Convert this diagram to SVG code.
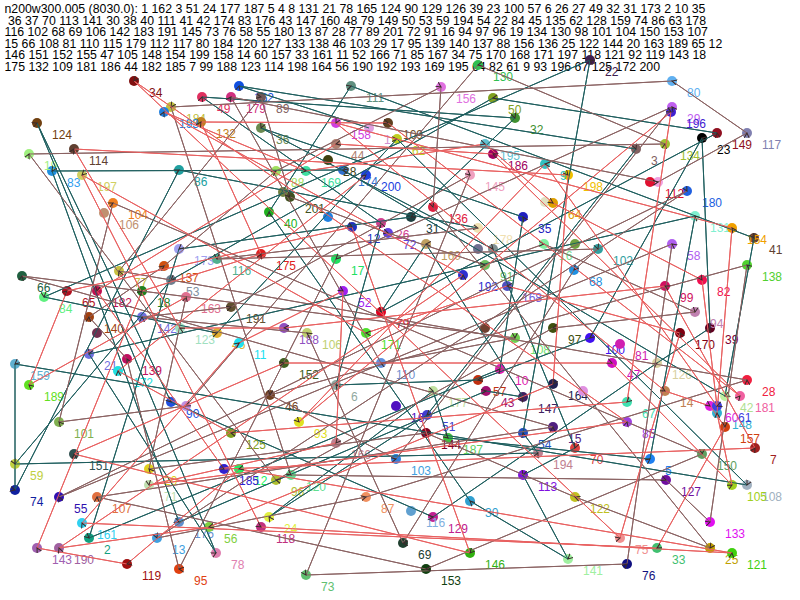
<svg xmlns="http://www.w3.org/2000/svg" width="800" height="600" viewBox="0 0 800 600">
<style>
text{font-family:"Liberation Sans",Arial,sans-serif;font-size:12px}
.hd text{font-size:12.3px;fill:#000}
.e{fill:none;stroke-width:1}
.t{stroke:#1e5e5e}.b{stroke:#8a6262}.r{stroke:#e86060}
.m{fill:none;stroke:none;marker-mid:url(#ah);marker-end:url(#ah)}
</style>
<defs>
<marker id="ah" viewBox="0 0 6 6" refX="5" refY="3" markerWidth="6" markerHeight="6" markerUnits="userSpaceOnUse" orient="auto"><path d="M0,0.5 L5,3 L0,5.5" fill="none" stroke="#3a2a2a" stroke-width="1"/></marker>
</defs>
<rect width="800" height="600" fill="#fff"/>
<g class="hd">
<text x="4.5" y="13">n200w300.005 (8030.0): 1 162 3 51 24 177 187 5 4 8 131 21 78 165 124 90 129 126 39 23 100 57 6 26 27 49 32 31 173 2 10 35</text>
<text x="7.9" y="24.6">36 37 70 113 141 30 38 40 111 41 42 174 83 176 43 147 160 48 79 149 50 53 59 194 54 22 84 45 135 62 128 159 74 86 63 178</text>
<text x="4.5" y="36.2">116 102 68 69 106 142 183 191 145 73 76 58 55 180 13 87 28 77 89 201 72 91 16 94 97 96 19 134 130 98 101 104 150 153 107</text>
<text x="4.5" y="47.8">15 66 108 81 110 115 179 112 117 80 184 120 127 133 138 46 103 29 17 95 139 140 137 88 156 136 25 122 144 20 163 189 65 12</text>
<text x="4.5" y="59.4">146 151 152 155 47 105 148 154 199 158 14 60 157 33 161 11 52 166 71 85 167 34 75 170 168 171 197 118 121 92 119 143 18</text>
<text x="4.5" y="71">175 132 109 181 186 44 182 185 7 99 188 123 114 198 164 56 190 192 193 169 195 64 82 61 9 93 196 67 125 172 200</text>
</g>
<g id="edges">
<polyline id="tourA" class="e t" points="369,128 239,86 636,149 427,415 269,517 433,391 448,438 650,459 695,216 89,354 216,553 37,123 171,402 433,517 657,363 710,328 702,138 590,338 478,380 336,385 381,223 202,97 515,118 411,217 179,249 89,538 500,369 523,217 261,128 493,249 575,448 523,475 568,559 470,501 269,212 351,86 754,238 725,396 343,170 52,171 179,522 486,391 523,397 426,244 381,312 717,133 493,98 171,280 15,464 538,453 523,433 590,60 44,297 217,333 397,139 747,485 15,364 15,490 179,170 478,228"/>
<polyline id="tourB" class="e b" points="478,228 217,259 598,249 574,270 403,543 307,333 142,317 231,307 470,175 306,575 627,564 672,244 59,497 687,191 157,538 366,497 747,380 119,271 261,97 290,197 388,233 485,265 544,244 695,312 553,328 276,480 29,154 665,144 478,65 186,406 59,422 113,203 702,454 426,569 97,497 553,427 22,276 515,338 381,363 231,97 658,182 747,133 672,81 171,107 291,475 666,480 710,522 747,265 270,395 396,459 672,107 336,259 179,569 127,359 89,317 164,266 276,171 441,87 433,207 710,548 575,497 426,433 149,469 186,297"/>
<polyline id="tourC" class="e r" points="186,297 29,385 67,291 352,227 470,553 74,454 284,363 612,363 732,485 717,413 732,228 336,123 665,391 710,406 725,427 657,548 82,523 239,343 343,291 336,443 149,485 627,422 134,81 620,538 680,333 507,286 366,333 82,175 261,527 732,553 239,469 127,564 37,548 142,291 261,254 201,122 388,123 740,396 493,154 336,144 97,291 224,469 755,448 665,286 284,328 180,328 74,149 568,175 553,384 209,527 59,548 463,275 164,112 306,171 485,144 553,203 702,280 717,406 545,164 299,422 671,112 627,402 231,433 118,371 366,175"/>
</g>
<g id="nodes">
<g id="n1"><circle cx="369" cy="128" r="5" fill="#e0a0e0"/><text x="384" y="144" fill="#d090d0">1</text></g>
<g id="n162"><circle cx="239" cy="86" r="5" fill="#1050e0"/><text x="254" y="102" fill="#1050e0">162</text></g>
<g id="n3"><circle cx="636" cy="149" r="5" fill="#806060"/><text x="651" y="165" fill="#806060">3</text></g>
<g id="n51"><circle cx="427" cy="415" r="5" fill="#4040d0"/><text x="442" y="431" fill="#4040d0">51</text></g>
<g id="n24"><circle cx="269" cy="517" r="5" fill="#e0f040"/><text x="284" y="533" fill="#e0f040">24</text></g>
<g id="n177"><circle cx="433" cy="391" r="5" fill="#c0e0a0"/><text x="448" y="407" fill="#c0e0a0">177</text></g>
<g id="n187"><circle cx="448" cy="438" r="5" fill="#40c040"/><text x="463" y="454" fill="#60d060">187</text></g>
<g id="n5"><circle cx="650" cy="459" r="5" fill="#2080f0"/><text x="665" y="475" fill="#2080f0">5</text></g>
<g id="n131"><circle cx="695" cy="216" r="5" fill="#80f0d0"/><text x="710" y="232" fill="#80f0d0">131</text></g>
<g id="n21"><circle cx="89" cy="354" r="5" fill="#7070e0"/><text x="104" y="370" fill="#7070e0">21</text></g>
<g id="n78"><circle cx="216" cy="553" r="5" fill="#e080b0"/><text x="231" y="569" fill="#e080b0">78</text></g>
<g id="n124"><circle cx="37" cy="123" r="5" fill="#704010"/><text x="52" y="139" fill="#704010">124</text></g>
<g id="n90"><circle cx="171" cy="402" r="5" fill="#2050e0"/><text x="186" y="418" fill="#2050e0">90</text></g>
<g id="n129"><circle cx="433" cy="517" r="5" fill="#c02090"/><text x="448" y="533" fill="#c02090">129</text></g>
<g id="n126"><circle cx="657" cy="363" r="5" fill="#d8d0a0"/><text x="672" y="379" fill="#d8d0a0">126</text></g>
<g id="n39"><circle cx="710" cy="328" r="5" fill="#600020"/><text x="725" y="344" fill="#800030">39</text></g>
<g id="n23"><circle cx="702" cy="138" r="5" fill="#000"/><text x="717" y="154" fill="#000">23</text></g>
<g id="n100"><circle cx="590" cy="338" r="5" fill="#4010f0"/><text x="605" y="354" fill="#4010f0">100</text></g>
<g id="n57"><circle cx="478" cy="380" r="5" fill="#c03010"/><text x="493" y="396" fill="#c03010">57</text></g>
<g id="n6"><circle cx="336" cy="385" r="5" fill="#90a8a0"/><text x="351" y="401" fill="#90a8a0">6</text></g>
<g id="n26"><circle cx="381" cy="223" r="5" fill="#d04090"/><text x="396" y="239" fill="#d04090">26</text></g>
<g id="n49"><circle cx="202" cy="97" r="5" fill="#e03060"/><text x="217" y="113" fill="#e03060">49</text></g>
<g id="n32"><circle cx="515" cy="118" r="5" fill="#409030"/><text x="530" y="134" fill="#409030">32</text></g>
<g id="n31"><circle cx="411" cy="217" r="5" fill="#204040"/><text x="426" y="233" fill="#204040">31</text></g>
<g id="n173"><circle cx="179" cy="249" r="5" fill="#a0a0f0"/><text x="194" y="265" fill="#a0a0f0">173</text></g>
<g id="n2"><circle cx="89" cy="538" r="5" fill="#10a080"/><text x="104" y="554" fill="#10a080">2</text></g>
<g id="n10"><circle cx="500" cy="369" r="5" fill="#e020b0"/><text x="515" y="385" fill="#e020b0">10</text></g>
<g id="n35"><circle cx="523" cy="217" r="5" fill="#2020c0"/><text x="538" y="233" fill="#2020c0">35</text></g>
<g id="n36"><circle cx="261" cy="128" r="5" fill="#6a8a50"/><text x="276" y="144" fill="#6a8a50">36</text></g>
<g id="n37"><circle cx="493" cy="249" r="5" fill="#809090"/></g>
<g id="n_e"><circle cx="478" cy="249" r="5" fill="#707090"/></g>
<g id="n70"><circle cx="575" cy="448" r="5" fill="#e04040"/><text x="590" y="464" fill="#e04040">70</text></g>
<g id="n113"><circle cx="523" cy="475" r="5" fill="#8010e0"/><text x="538" y="491" fill="#8010e0">113</text></g>
<g id="n141"><circle cx="568" cy="559" r="5" fill="#a0f0a0"/><text x="583" y="575" fill="#a0f0a0">141</text></g>
<g id="n30"><circle cx="470" cy="501" r="5" fill="#30a0d0"/><text x="485" y="517" fill="#30a0d0">30</text></g>
<g id="n40"><circle cx="269" cy="212" r="5" fill="#20b020"/><text x="284" y="228" fill="#20b020">40</text></g>
<g id="n111"><circle cx="351" cy="86" r="5" fill="#609080"/><text x="366" y="102" fill="#609080">111</text></g>
<g id="n41"><circle cx="754" cy="238" r="5" fill="#604030"/><text x="769" y="254" fill="#604030">41</text></g>
<g id="n42"><circle cx="725" cy="396" r="5" fill="#c0f0a0"/><text x="740" y="412" fill="#b0e090">42</text></g>
<g id="n174"><circle cx="343" cy="170" r="5" fill="#3070d0"/><text x="358" y="186" fill="#3070d0">174</text></g>
<g id="n83"><circle cx="52" cy="171" r="5" fill="#2090e0"/><text x="67" y="187" fill="#30a0f0">83</text></g>
<g id="n176"><circle cx="179" cy="522" r="5" fill="#6090d0"/><text x="194" y="538" fill="#6090d0">176</text></g>
<g id="n43"><circle cx="486" cy="391" r="5" fill="#a01070"/><text x="501" y="407" fill="#a01070">43</text></g>
<g id="n147"><circle cx="523" cy="397" r="5" fill="#402060"/><text x="538" y="413" fill="#402060">147</text></g>
<g id="n160"><circle cx="426" cy="244" r="5" fill="#c0a060"/><text x="441" y="260" fill="#c0a060">160</text></g>
<g id="n79"><circle cx="381" cy="312" r="5" fill="#e00020"/><text x="396" y="328" fill="#e00020">79</text></g>
<g id="n149"><circle cx="717" cy="133" r="5" fill="#901020"/><text x="732" y="149" fill="#901020">149</text></g>
<g id="n117"><circle cx="747" cy="133" r="5" fill="#8080b0"/><text x="762" y="149" fill="#8080b0">117</text></g>
<g id="n50"><circle cx="493" cy="98" r="5" fill="#80a020"/><text x="508" y="114" fill="#80a020">50</text></g>
<g id="n53"><circle cx="171" cy="280" r="5" fill="#708090"/><text x="186" y="296" fill="#8090a0">53</text></g>
<g id="n59"><circle cx="15" cy="464" r="5" fill="#c0d040"/><text x="30" y="480" fill="#c0d040">59</text></g>
<g id="n194"><circle cx="538" cy="453" r="5" fill="#c08090"/><text x="553" y="469" fill="#c08090">194</text></g>
<g id="n54"><circle cx="523" cy="433" r="5" fill="#2050c0"/><text x="538" y="449" fill="#2050c0">54</text></g>
<g id="n22"><circle cx="590" cy="60" r="5" fill="#402050"/><text x="605" y="76" fill="#402050">22</text></g>
<g id="n84"><circle cx="44" cy="297" r="5" fill="#60f080"/><text x="59" y="313" fill="#60f080">84</text></g>
<g id="n45"><circle cx="217" cy="333" r="5" fill="#e0b030"/><text x="232" y="349" fill="#e0b030">45</text></g>
<g id="n62"><circle cx="397" cy="139" r="5" fill="#c0d020"/><text x="412" y="155" fill="#c0d020">62</text></g>
<g id="n128"><circle cx="747" cy="485" r="5" fill="#a0b0c0"/><text x="762" y="501" fill="#a0b0c0">108</text></g>
<g id="n159"><circle cx="15" cy="364" r="5" fill="#60b0d0"/><text x="30" y="380" fill="#60b0d0">159</text></g>
<g id="n74"><circle cx="15" cy="490" r="5" fill="#1020a0"/><text x="30" y="506" fill="#1020a0">74</text></g>
<g id="n86"><circle cx="179" cy="170" r="5" fill="#20a0a0"/><text x="194" y="186" fill="#20a0a0">86</text></g>
<g id="n178"><circle cx="478" cy="228" r="5" fill="#f0e0b0"/><text x="493" y="244" fill="#f0e0b0">178</text></g>
<g id="n116"><circle cx="217" cy="259" r="5" fill="#50b090"/><text x="232" y="275" fill="#50b090">116</text></g>
<g id="n102"><circle cx="598" cy="249" r="5" fill="#30a0a0"/><text x="613" y="265" fill="#30a0a0">102</text></g>
<g id="n68"><circle cx="574" cy="270" r="5" fill="#2090e0"/><text x="589" y="286" fill="#2090e0">68</text></g>
<g id="n69"><circle cx="403" cy="543" r="5" fill="#204030"/><text x="418" y="559" fill="#204030">69</text></g>
<g id="n106"><circle cx="307" cy="333" r="5" fill="#c0d070"/><text x="322" y="349" fill="#c0d070">106</text></g>
<g id="n142"><circle cx="142" cy="317" r="5" fill="#7070e0"/><text x="157" y="333" fill="#7070e0">142</text></g>
<g id="n191"><circle cx="231" cy="307" r="5" fill="#605030"/><text x="246" y="323" fill="#605030">191</text></g>
<g id="n145"><circle cx="470" cy="175" r="5" fill="#f0a0c0"/><text x="485" y="191" fill="#f0a0c0">145</text></g>
<g id="n73"><circle cx="306" cy="575" r="5" fill="#60c070"/><text x="321" y="591" fill="#60c070">73</text></g>
<g id="n76"><circle cx="627" cy="564" r="5" fill="#101080"/><text x="642" y="580" fill="#101080">76</text></g>
<g id="n58"><circle cx="672" cy="244" r="5" fill="#b060f0"/><text x="687" y="260" fill="#b060f0">58</text></g>
<g id="n55"><circle cx="59" cy="497" r="5" fill="#3010b0"/><text x="74" y="513" fill="#3010b0">55</text></g>
<g id="n180"><circle cx="687" cy="191" r="5" fill="#2060e0"/><text x="702" y="207" fill="#2060e0">180</text></g>
<g id="n13"><circle cx="157" cy="538" r="5" fill="#40a0e0"/><text x="172" y="554" fill="#40a0e0">13</text></g>
<g id="n87"><circle cx="366" cy="497" r="5" fill="#f09060"/><text x="381" y="513" fill="#f09060">87</text></g>
<g id="n28"><circle cx="747" cy="380" r="5" fill="#f02040"/><text x="762" y="396" fill="#f02040">28</text></g>
<g id="n28b"><circle cx="328" cy="160" r="5" fill="#404010"/><text x="343" y="176" fill="#404010">28</text></g>
<g id="n77"><circle cx="119" cy="271" r="5" fill="#c8c040"/><text x="134" y="287" fill="#c8c040">77</text></g>
<g id="n89"><circle cx="261" cy="97" r="5" fill="#705858"/><text x="276" y="113" fill="#806060">89</text></g>
<g id="n201"><circle cx="290" cy="197" r="5" fill="#405020"/><text x="305" y="213" fill="#405020">201</text></g>
<g id="n_o"><circle cx="283" cy="192" r="5" fill="#708040"/></g>
<g id="n72"><circle cx="388" cy="233" r="5" fill="#6040e0"/><text x="403" y="249" fill="#6040e0">72</text></g>
<g id="n91"><circle cx="485" cy="265" r="5" fill="#70c060"/><text x="500" y="281" fill="#70c060">91</text></g>
<g id="n16"><circle cx="544" cy="244" r="5" fill="#80f0a0"/><text x="559" y="260" fill="#70e090">16</text></g>
<g id="n_g"><circle cx="575" cy="244" r="5" fill="#70a040"/></g>
<g id="n94"><circle cx="695" cy="312" r="5" fill="#c080b0"/><text x="710" y="328" fill="#c080b0">94</text></g>
<g id="n97"><circle cx="553" cy="328" r="5" fill="#405010"/><text x="568" y="344" fill="#405010">97</text></g>
<g id="n96"><circle cx="276" cy="480" r="5" fill="#b0c030"/><text x="291" y="496" fill="#b0c030">96</text></g>
<g id="n19"><circle cx="29" cy="154" r="5" fill="#a0f080"/><text x="44" y="170" fill="#a0f080">19</text></g>
<g id="n134"><circle cx="665" cy="144" r="5" fill="#a0c030"/><text x="680" y="160" fill="#a0c030">134</text></g>
<g id="n130"><circle cx="478" cy="65" r="5" fill="#30c050"/><text x="493" y="81" fill="#30c050">130</text></g>
<g id="n98"><circle cx="186" cy="406" r="5" fill="#c090e0"/></g>
<g id="n101"><circle cx="59" cy="422" r="5" fill="#80b050"/><text x="74" y="438" fill="#80b050">101</text></g>
<g id="n104"><circle cx="113" cy="203" r="5" fill="#f08020"/><text x="128" y="219" fill="#f08020">104</text></g>
<g id="n106b"><circle cx="104" cy="213" r="5" fill="#c09070"/><text x="119" y="229" fill="#c09070">106</text></g>
<g id="n150"><circle cx="702" cy="454" r="5" fill="#60a060"/><text x="717" y="470" fill="#60a060">150</text></g>
<g id="n153"><circle cx="426" cy="569" r="5" fill="#104010"/><text x="441" y="585" fill="#104010">153</text></g>
<g id="n107"><circle cx="97" cy="497" r="5" fill="#e07040"/><text x="112" y="513" fill="#e07040">107</text></g>
<g id="n15"><circle cx="553" cy="427" r="5" fill="#502080"/><text x="568" y="443" fill="#502080">15</text></g>
<g id="n66"><circle cx="22" cy="276" r="5" fill="#206040"/><text x="37" y="292" fill="#206040">66</text></g>
<g id="n108"><circle cx="515" cy="338" r="5" fill="#70d050"/><text x="530" y="354" fill="#70e070">108</text></g>
<g id="n110"><circle cx="381" cy="363" r="5" fill="#6090e0"/><text x="396" y="379" fill="#7090d0">110</text></g>
<g id="n179"><circle cx="231" cy="97" r="5" fill="#d03080"/><text x="246" y="113" fill="#d03080">179</text></g>
<g id="n112"><circle cx="658" cy="182" r="5" fill="#f0a0e0"/></g>
<g id="n_n"><circle cx="650" cy="182" r="5" fill="#e01030"/><text x="665" y="198" fill="#e01030">112</text></g>
<g id="n80"><circle cx="672" cy="81" r="5" fill="#60b0f0"/><text x="687" y="97" fill="#60b0f0">80</text></g>
<g id="n184"><circle cx="171" cy="107" r="5" fill="#c0c040"/><text x="186" y="123" fill="#c0c040">184</text></g>
<g id="n120"><circle cx="291" cy="475" r="5" fill="#60e090"/><text x="306" y="491" fill="#60e090">120</text></g>
<g id="n127"><circle cx="666" cy="480" r="5" fill="#7010a0"/><text x="681" y="496" fill="#7010a0">127</text></g>
<g id="n133"><circle cx="710" cy="522" r="5" fill="#e010f0"/><text x="725" y="538" fill="#e010f0">133</text></g>
<g id="n138"><circle cx="747" cy="265" r="5" fill="#50d030"/><text x="762" y="281" fill="#50d030">138</text></g>
<g id="n46"><circle cx="270" cy="395" r="5" fill="#704020"/><text x="285" y="411" fill="#704020">46</text></g>
<g id="n103"><circle cx="396" cy="459" r="5" fill="#3080e0"/><text x="411" y="475" fill="#40a0e0">103</text></g>
<g id="n29"><circle cx="672" cy="107" r="5" fill="#c060f0"/><text x="687" y="123" fill="#c060f0">29</text></g>
<g id="n196"><circle cx="671" cy="112" r="5" fill="#4020d0"/><text x="686" y="128" fill="#4020d0">196</text></g>
<g id="n17"><circle cx="336" cy="259" r="5" fill="#20e060"/><text x="351" y="275" fill="#20e060">17</text></g>
<g id="n95"><circle cx="179" cy="569" r="5" fill="#e04010"/><text x="194" y="585" fill="#e04010">95</text></g>
<g id="n139"><circle cx="127" cy="359" r="5" fill="#c01060"/><text x="142" y="375" fill="#c01060">139</text></g>
<g id="n140"><circle cx="89" cy="317" r="5" fill="#a04010"/><text x="104" y="333" fill="#a04010">140</text></g>
<g id="n137"><circle cx="164" cy="266" r="5" fill="#d05010"/><text x="179" y="282" fill="#d05010">137</text></g>
<g id="n88"><circle cx="276" cy="171" r="5" fill="#a0e060"/><text x="291" y="187" fill="#a0e060">88</text></g>
<g id="n156"><circle cx="441" cy="87" r="5" fill="#e070e0"/><text x="456" y="103" fill="#e070e0">156</text></g>
<g id="n136"><circle cx="433" cy="207" r="5" fill="#e02040"/><text x="448" y="223" fill="#e02040">136</text></g>
<g id="n25"><circle cx="710" cy="548" r="5" fill="#c0a000"/><text x="725" y="564" fill="#c0a000">25</text></g>
<g id="n122"><circle cx="575" cy="497" r="5" fill="#c0c020"/><text x="590" y="513" fill="#c0c020">122</text></g>
<g id="n144"><circle cx="426" cy="433" r="5" fill="#800020"/><text x="441" y="449" fill="#800020">144</text></g>
<g id="n20"><circle cx="149" cy="469" r="5" fill="#e0d020"/><text x="164" y="485" fill="#e0d020">20</text></g>
<g id="n163"><circle cx="186" cy="297" r="5" fill="#e07090"/><text x="201" y="313" fill="#e07090">163</text></g>
<g id="n189"><circle cx="29" cy="385" r="5" fill="#60e020"/><text x="44" y="401" fill="#60e020">189</text></g>
<g id="n65"><circle cx="67" cy="291" r="5" fill="#b01020"/><text x="82" y="307" fill="#b01020">65</text></g>
<g id="n_b"><circle cx="328" cy="217" r="5" fill="#2080e0"/></g>
<g id="n12"><circle cx="352" cy="227" r="5" fill="#2030c0"/><text x="367" y="243" fill="#2030c0">12</text></g>
<g id="n146"><circle cx="470" cy="553" r="5" fill="#30b010"/><text x="485" y="569" fill="#30b010">146</text></g>
<g id="n151"><circle cx="74" cy="454" r="5" fill="#305050"/><text x="89" y="470" fill="#305050">151</text></g>
<g id="n152"><circle cx="284" cy="363" r="5" fill="#406020"/><text x="299" y="379" fill="#406020">152</text></g>
<g id="n47"><circle cx="612" cy="363" r="5" fill="#d010c0"/><text x="627" y="379" fill="#d010c0">47</text></g>
<g id="n81"><circle cx="620" cy="344" r="5" fill="#d020b0"/><text x="635" y="360" fill="#d020b0">81</text></g>
<g id="n105"><circle cx="732" cy="485" r="5" fill="#a0d020"/><text x="747" y="501" fill="#a0d020">105</text></g>
<g id="n148"><circle cx="717" cy="413" r="5" fill="#30b0d0"/><text x="732" y="429" fill="#30b0d0">148</text></g>
<g id="n154"><circle cx="732" cy="228" r="5" fill="#f0a000"/><text x="747" y="244" fill="#f0a000">154</text></g>
<g id="n158"><circle cx="336" cy="123" r="5" fill="#d040e0"/><text x="351" y="139" fill="#d040e0">158</text></g>
<g id="n14"><circle cx="665" cy="391" r="5" fill="#c08050"/><text x="680" y="407" fill="#c08050">14</text></g>
<g id="n60"><circle cx="710" cy="406" r="5" fill="#e020e0"/><text x="725" y="422" fill="#e020e0">60</text></g>
<g id="n61"><circle cx="717" cy="406" r="5" fill="#4040e0"/><text x="738" y="422" fill="#4040e0">61</text></g>
<g id="n157"><circle cx="725" cy="427" r="5" fill="#d04010"/><text x="740" y="443" fill="#d04010">157</text></g>
<g id="n33"><circle cx="657" cy="548" r="5" fill="#40c070"/><text x="672" y="564" fill="#40c070">33</text></g>
<g id="n161"><circle cx="82" cy="523" r="5" fill="#30d0f0"/><text x="97" y="539" fill="#30d0f0">161</text></g>
<g id="n11"><circle cx="239" cy="343" r="5" fill="#20e0f0"/><text x="254" y="359" fill="#20e0f0">11</text></g>
<g id="n52"><circle cx="343" cy="291" r="5" fill="#a020f0"/><text x="358" y="307" fill="#a020f0">52</text></g>
<g id="n166"><circle cx="336" cy="443" r="5" fill="#c08090"/><text x="351" y="459" fill="#c08090">166</text></g>
<g id="n71"><circle cx="149" cy="485" r="5" fill="#c0e0b0"/><text x="164" y="501" fill="#c0e0b0">71</text></g>
<g id="n85"><circle cx="627" cy="422" r="5" fill="#a040e0"/><text x="642" y="438" fill="#a040e0">85</text></g>
<g id="n67"><circle cx="627" cy="402" r="5" fill="#40e0b0"/><text x="642" y="418" fill="#40e0b0">67</text></g>
<g id="n34"><circle cx="134" cy="81" r="5" fill="#801010"/><text x="149" y="97" fill="#801010">34</text></g>
<g id="n75"><circle cx="620" cy="538" r="5" fill="#f09090"/><text x="635" y="554" fill="#f09090">75</text></g>
<g id="n170"><circle cx="680" cy="333" r="5" fill="#800010"/><text x="695" y="349" fill="#800010">170</text></g>
<g id="n168"><circle cx="507" cy="286" r="5" fill="#5050c0"/><text x="522" y="302" fill="#7060e0">168</text></g>
<g id="n171"><circle cx="366" cy="333" r="5" fill="#50e030"/><text x="381" y="349" fill="#50e030">171</text></g>
<g id="n197"><circle cx="82" cy="175" r="5" fill="#d0d060"/><text x="97" y="191" fill="#d0d060">197</text></g>
<g id="n118"><circle cx="261" cy="527" r="5" fill="#c03080"/><text x="276" y="543" fill="#c03080">118</text></g>
<g id="n121"><circle cx="732" cy="553" r="5" fill="#40d010"/><text x="747" y="569" fill="#40d010">121</text></g>
<g id="n92"><circle cx="239" cy="469" r="5" fill="#20f060"/><text x="254" y="485" fill="#20f060">12</text></g>
<g id="n119"><circle cx="127" cy="564" r="5" fill="#a01010"/><text x="142" y="580" fill="#a01010">119</text></g>
<g id="n143"><circle cx="37" cy="548" r="5" fill="#a060b0"/><text x="52" y="564" fill="#a060b0">143</text></g>
<g id="n190"><circle cx="59" cy="548" r="5" fill="#a060a0"/><text x="74" y="564" fill="#a060a0">190</text></g>
<g id="n18"><circle cx="142" cy="291" r="5" fill="#208020"/><text x="157" y="307" fill="#208020">18</text></g>
<g id="n175"><circle cx="261" cy="254" r="5" fill="#e02020"/><text x="276" y="270" fill="#e02020">175</text></g>
<g id="n132"><circle cx="201" cy="122" r="5" fill="#c08020"/><text x="216" y="138" fill="#c08020">132</text></g>
<g id="n109"><circle cx="388" cy="123" r="5" fill="#604020"/><text x="403" y="139" fill="#705030">109</text></g>
<g id="n181"><circle cx="740" cy="396" r="5" fill="#f060a0"/><text x="755" y="412" fill="#f060a0">181</text></g>
<g id="n186"><circle cx="493" cy="154" r="5" fill="#a00060"/><text x="508" y="170" fill="#a00060">186</text></g>
<g id="n44"><circle cx="336" cy="144" r="5" fill="#b08070"/><text x="351" y="160" fill="#b08070">44</text></g>
<g id="n182"><circle cx="97" cy="291" r="5" fill="#c01050"/><text x="112" y="307" fill="#c01050">182</text></g>
<g id="n_a"><circle cx="97" cy="333" r="5" fill="#703050"/></g>
<g id="n185"><circle cx="224" cy="469" r="5" fill="#3020d0"/><text x="239" y="485" fill="#3020d0">185</text></g>
<g id="n7"><circle cx="755" cy="448" r="5" fill="#a02020"/><text x="770" y="464" fill="#a02020">7</text></g>
<g id="n99"><circle cx="665" cy="286" r="5" fill="#d01060"/><text x="680" y="302" fill="#d01060">99</text></g>
<g id="n188"><circle cx="284" cy="328" r="5" fill="#9050c0"/><text x="299" y="344" fill="#9050c0">188</text></g>
<g id="n123"><circle cx="180" cy="328" r="5" fill="#a0e0c0"/><text x="195" y="344" fill="#a0e0c0">123</text></g>
<g id="n114"><circle cx="74" cy="149" r="5" fill="#604030"/><text x="89" y="165" fill="#604030">114</text></g>
<g id="n198"><circle cx="568" cy="175" r="5" fill="#f0c000"/><text x="583" y="191" fill="#f0c000">198</text></g>
<g id="n9"><circle cx="545" cy="164" r="5" fill="#30c0c0"/><text x="560" y="180" fill="#30c0c0">9</text></g>
<g id="n164"><circle cx="553" cy="384" r="5" fill="#202050"/><text x="568" y="400" fill="#202050">164</text></g>
<g id="n_i"><circle cx="583" cy="391" r="5" fill="#e090e0"/></g>
<g id="n56"><circle cx="209" cy="527" r="5" fill="#80d040"/><text x="224" y="543" fill="#80d040">56</text></g>
<g id="n192"><circle cx="463" cy="275" r="5" fill="#3030d0"/><text x="478" y="291" fill="#3030d0">192</text></g>
<g id="n193"><circle cx="164" cy="112" r="5" fill="#2080e0"/><text x="179" y="128" fill="#2080e0">193</text></g>
<g id="n169"><circle cx="306" cy="171" r="5" fill="#40e0a0"/><text x="321" y="187" fill="#40e0a0">169</text></g>
<g id="n195"><circle cx="485" cy="144" r="5" fill="#60c0d0"/><text x="500" y="160" fill="#60c0d0">195</text></g>
<g id="n_d"><circle cx="545" cy="202" r="5" fill="#e0e0c0"/></g>
<g id="n64"><circle cx="553" cy="203" r="5" fill="#e0a000"/><text x="568" y="219" fill="#e0a000">64</text></g>
<g id="n82"><circle cx="702" cy="280" r="5" fill="#f01050"/><text x="717" y="296" fill="#f01050">82</text></g>
<g id="n93"><circle cx="299" cy="422" r="5" fill="#e0e020"/><text x="314" y="438" fill="#e0e020">93</text></g>
<g id="n125"><circle cx="231" cy="433" r="5" fill="#80a020"/><text x="246" y="449" fill="#80a020">125</text></g>
<g id="n172"><circle cx="118" cy="371" r="5" fill="#20e0e0"/><text x="133" y="387" fill="#20e0e0">172</text></g>
<g id="n200"><circle cx="366" cy="175" r="5" fill="#2040e0"/><text x="381" y="191" fill="#2040e0">200</text></g>
<g id="n_h"><circle cx="485" cy="328" r="5" fill="#704030"/></g>
<g id="n_k"><circle cx="396" cy="406" r="5" fill="#5010c0"/><text x="411" y="422" fill="#5010c0">16</text></g>
<g id="n116b"><circle cx="411" cy="511" r="5" fill="#60a0d0"/><text x="426" y="527" fill="#80b0e0">116</text></g>
</g>
<g id="arrowheads">
<use href="#tourA" class="m"/>
<use href="#tourB" class="m"/>
<use href="#tourC" class="m"/>
</g>
</svg>
